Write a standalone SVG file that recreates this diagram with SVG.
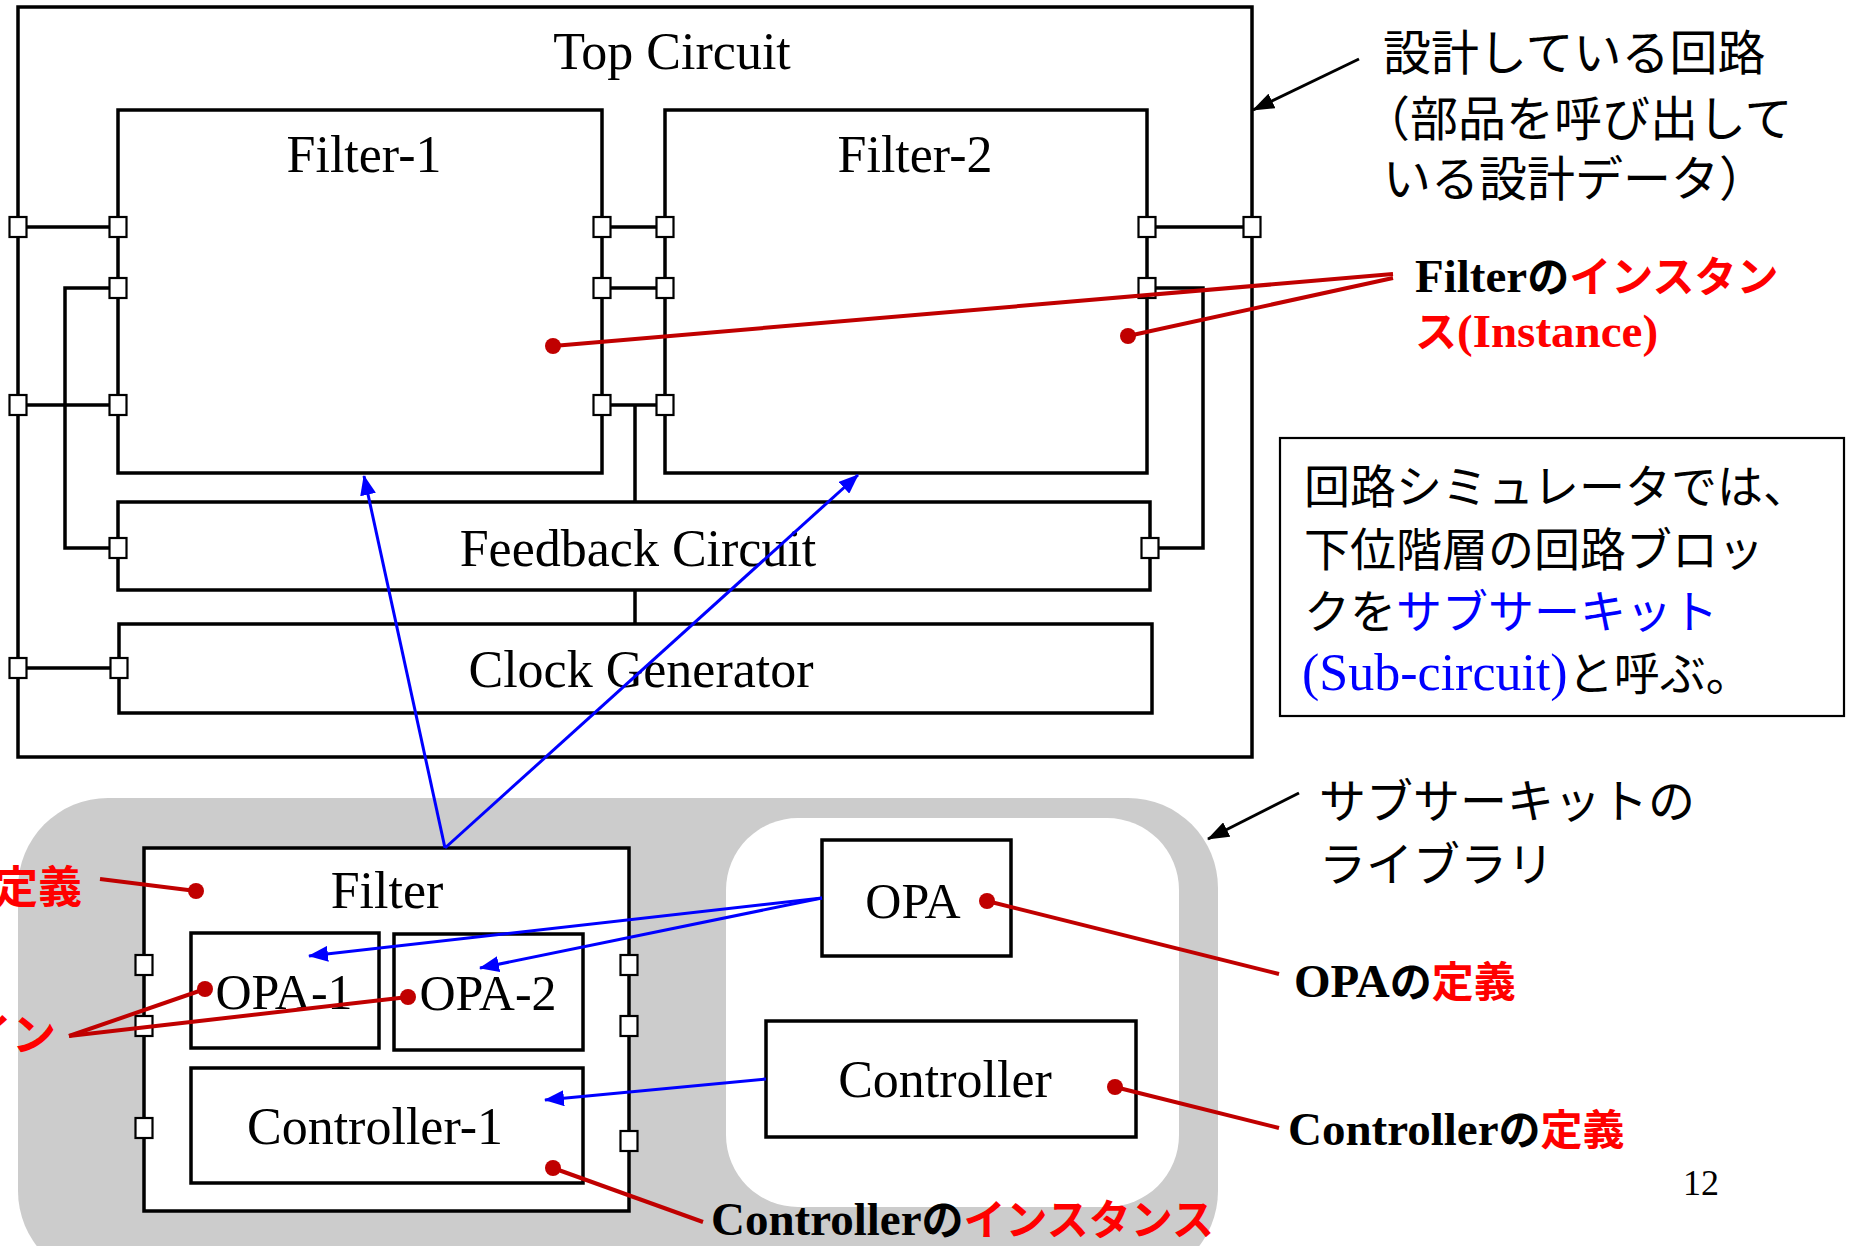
<svg xmlns="http://www.w3.org/2000/svg" xmlns:xlink="http://www.w3.org/1999/xlink" width="1854" height="1246" viewBox="0 0 1854 1246">
<style>
.box{fill:#fff;stroke:#000;stroke-width:3.5}
.thin{fill:#fff;stroke:#000;stroke-width:2.2}
.wire{fill:none;stroke:#000;stroke-width:3.5}
.lbl{font-family:"Liberation Serif","Times New Roman",serif;font-size:52px;fill:#000;text-anchor:middle}
.jp{font-family:"Noto Sans CJK JP","Noto Sans CJK SC",sans-serif;fill:#000}
.bl{font-family:"Liberation Serif","Times New Roman",serif;font-weight:bold;font-size:47px;fill:#000}
.bj{font-family:"Noto Sans CJK JP","Noto Sans CJK SC",sans-serif;font-weight:bold;font-size:42px}
.red{fill:#ff0000}
.blue{fill:#0000ff}
.rline{fill:none;stroke:#c00000;stroke-width:4}
.bline{fill:none;stroke:#0000ff;stroke-width:3}
.kline{fill:none;stroke:#000;stroke-width:3}
</style>
<defs>
<rect id="port" x="-8.5" y="-10" width="17" height="20" fill="#fff" stroke="#000" stroke-width="2.2"/>
<marker id="barrow" markerUnits="userSpaceOnUse" viewBox="0 0 20 16" refX="19" refY="8" markerWidth="20" markerHeight="16" orient="auto"><path d="M0,0 L20,8 L0,16 Z" fill="#0000ff"/></marker>
<marker id="karrow" markerUnits="userSpaceOnUse" viewBox="0 0 22 16" refX="21" refY="8" markerWidth="22" markerHeight="16" orient="auto"><path d="M0,0 L22,8 L0,16 Z" fill="#000"/></marker>
<marker id="dot" markerUnits="userSpaceOnUse" viewBox="0 0 18 18" refX="9" refY="9" markerWidth="18" markerHeight="18"><circle cx="9" cy="9" r="8" fill="#c00000"/></marker>
</defs>
<rect x="0" y="0" width="1854" height="1246" fill="#fff"/>

<g id="top-circuit">
<rect class="box" x="18" y="7" width="1234" height="750" stroke-width="3"/>
<text class="lbl" x="672" y="69">Top Circuit</text>
</g>

<g id="wires">
<path class="wire" d="M18,227 H118 M18,405 H118 M118,288 H65 V548 H118 M602,227 H665 M602,288 H665 M602,405 H665 M635,405 V502 M635,590 V624 M1147,227 H1252 M1147,288 H1203 V548 H1150 M18,668 H119"/>
<path class="wire" d="M144,965 H191 M144,1026 H191 M144,1128 H191 M583,965 H629 M583,1026 H629 M583,1141 H629 M379,966 H394 M379,1009 H394 M284,1048 V1068 M491,1050 V1068"/>
</g>

<g id="filter-1">
<rect class="box" x="118" y="110" width="484" height="363"/>
<text class="lbl" x="364" y="172">Filter-1</text>
<use href="#port" x="118" y="227"/><use href="#port" x="118" y="288"/><use href="#port" x="118" y="405"/>
<use href="#port" x="602" y="227"/><use href="#port" x="602" y="288"/><use href="#port" x="602" y="405"/>
</g>
<g id="filter-2">
<rect class="box" x="665" y="110" width="482" height="363"/>
<text class="lbl" x="915" y="172">Filter-2</text>
<use href="#port" x="665" y="227"/><use href="#port" x="665" y="288"/><use href="#port" x="665" y="405"/>
<use href="#port" x="1147" y="227"/><use href="#port" x="1147" y="288"/>
</g>
<g id="feedback-circuit">
<rect class="box" x="118" y="502" width="1032" height="88"/>
<text class="lbl" x="638" y="566">Feedback Circuit</text>
<use href="#port" x="118" y="548"/><use href="#port" x="1150" y="548"/>
</g>
<g id="clock-generator">
<rect class="box" x="119" y="624" width="1033" height="89"/>
<text class="lbl" x="641" y="687">Clock Generator</text>
<use href="#port" x="119" y="668"/>
</g>
<g id="top-ports">
<use href="#port" x="18" y="227"/><use href="#port" x="18" y="405"/><use href="#port" x="18" y="668"/><use href="#port" x="1252" y="227"/>
</g>

<g id="library">
<rect x="18" y="798" width="1200" height="483" rx="90" ry="90" fill="#cccccc"/>
<rect x="726" y="818" width="453" height="389" rx="72" ry="72" fill="#fff"/>
</g>

<g id="filter-def">
<rect class="box" x="144" y="848" width="485" height="363"/>
<text class="lbl" x="387" y="908">Filter</text>
<use href="#port" x="144" y="965"/><use href="#port" x="144" y="1026"/><use href="#port" x="144" y="1128"/>
<use href="#port" x="629" y="965"/><use href="#port" x="629" y="1026"/><use href="#port" x="629" y="1141"/>
</g>
<g id="opa-1">
<rect class="box" x="191" y="933" width="188" height="115"/>
<text class="lbl" x="284" y="1009" style="font-size:50px">OPA-1</text>
</g>
<g id="opa-2">
<rect class="box" x="394" y="934" width="189" height="116"/>
<text class="lbl" x="488" y="1010" style="font-size:50px">OPA-2</text>
</g>
<g id="controller-1">
<rect class="box" x="191" y="1068" width="392" height="115"/>
<text class="lbl" x="375" y="1144">Controller-1</text>
</g>
<g id="opa-def">
<rect class="box" x="822" y="840" width="189" height="116" stroke-width="3"/>
<text class="lbl" x="913" y="918" style="font-size:50px">OPA</text>
</g>
<g id="controller-def">
<rect class="box" x="766" y="1021" width="370" height="116" stroke-width="3"/>
<text class="lbl" x="945" y="1097">Controller</text>
</g>

<g id="connectors">
<path class="bline" d="M445,848 L364,476" marker-end="url(#barrow)"/>
<path class="bline" d="M445,848 L858,475" marker-end="url(#barrow)"/>
<path class="bline" d="M822,898 L309,956" marker-end="url(#barrow)"/>
<path class="bline" d="M822,898 L480,968" marker-end="url(#barrow)"/>
<path class="bline" d="M766,1079 L545,1100" marker-end="url(#barrow)"/>
<path class="rline" d="M553,346 L1393,274" marker-start="url(#dot)"/>
<path class="rline" d="M1128,336 L1393,278" marker-start="url(#dot)"/>
<path class="rline" d="M987,901 L1279,974" marker-start="url(#dot)"/>
<path class="rline" d="M1115,1087 L1279,1128" marker-start="url(#dot)"/>
<path class="rline" d="M196,891 L100,879" marker-start="url(#dot)"/>
<path class="rline" d="M205,989 L69,1036" marker-start="url(#dot)"/>
<path class="rline" d="M408,997 L69,1036" marker-start="url(#dot)"/>
<path class="rline" d="M553,1168 L703,1222" marker-start="url(#dot)"/>
<path class="kline" d="M1359,59 L1253,110" marker-end="url(#karrow)"/>
<path class="kline" d="M1299,793 L1208,839" marker-end="url(#karrow)"/>
</g>

<g id="note-design">
<text class="jp" font-size="48"><tspan x="1383" y="70">設計している回路</tspan><tspan x="1362" y="136">（部品を呼び出して</tspan><tspan x="1383" y="196">いる設計データ）</tspan></text>
</g>
<g id="note-filter-instance">
<text x="1415" y="292"><tspan class="bl">Filter</tspan><tspan class="bj" fill="#000">の</tspan><tspan class="bj red">インスタン</tspan><tspan x="1415" y="347" class="bj red">ス</tspan><tspan class="bl red">(Instance)</tspan></text>
</g>
<g id="note-box">
<rect class="thin" x="1280" y="438" width="564" height="278"/>
<text class="jp" font-size="46"><tspan x="1304" y="503">回路シミュレータでは、</tspan><tspan x="1304" y="566">下位階層の回路ブロッ</tspan><tspan x="1304" y="628">クを</tspan><tspan class="blue">サブサーキット</tspan><tspan x="1302" y="690" font-family="Liberation Serif, serif" font-size="52" class="blue">(Sub-circuit)</tspan><tspan>と呼ぶ。</tspan></text>
</g>
<g id="note-library">
<text class="jp" font-size="47"><tspan x="1319" y="818">サブサーキットの</tspan><tspan x="1319" y="881">ライブラリ</tspan></text>
</g>
<g id="note-opa-def">
<text x="1294" y="997"><tspan class="bl">OPA</tspan><tspan class="bj" fill="#000">の</tspan><tspan class="bj red">定義</tspan></text>
</g>
<g id="note-controller-def">
<text x="1288" y="1145"><tspan class="bl">Controller</tspan><tspan class="bj" fill="#000">の</tspan><tspan class="bj red">定義</tspan></text>
</g>
<g id="note-controller-instance">
<text x="711" y="1235"><tspan class="bl">Controller</tspan><tspan class="bj" fill="#000">の</tspan><tspan class="bj red">インスタンス</tspan></text>
</g>
<g id="note-filter-def">
<text class="bj red" x="-6" y="903" style="font-size:44px">定義</text>
</g>
<g id="note-opa-instance">
<text class="bj red" x="-32" y="1051" style="font-size:44px">イン</text>
</g>
<g id="page-number">
<text x="1701" y="1195" font-family="Liberation Serif, serif" font-size="36" text-anchor="middle">12</text>
</g>
</svg>
